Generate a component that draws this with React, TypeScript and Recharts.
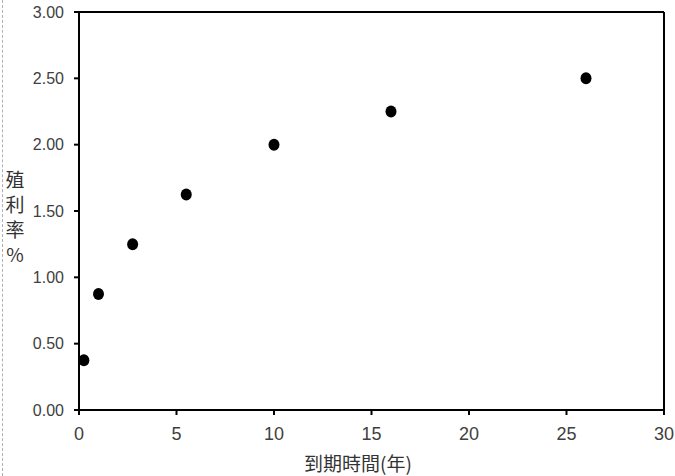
import { ReferenceLine, Scatter, ScatterChart, XAxis, YAxis } from "recharts";

const maturity = [0.25, 1, 2.75, 5.5, 10, 16, 26];
const yieldPct = [0.375, 0.875, 1.25, 1.625, 2.0, 2.25, 2.5];
const xTicks = [0, 5, 10, 15, 20, 25, 30];
const yTicks = [0, 0.5, 1, 1.5, 2, 2.5, 3];

const points = maturity.map((x, i) => ({ x, y: yieldPct[i] }));

const yTickStyle = { fill: "#404040", fontSize: 16, fontFamily: "Liberation Sans, Arial, sans-serif" };
const xTickStyle = { fill: "#404040", fontSize: 18, fontFamily: "Liberation Sans Narrow, Liberation Sans, sans-serif" };

const Dot = (props: any) => <ellipse cx={props.cx} cy={props.cy} rx={5.5} ry={6} fill="#000" />;

function App() {
    return (
        <div style={{ position: "absolute", left: 0, top: 0, width: 675, height: 476, background: "#fff", overflow: "hidden" }}>
            <div style={{ position: "absolute", left: 2, top: 0, height: 476, borderLeft: "1px dashed #b0b0b0" }} />
            <ScatterChart width={675} height={476} margin={{ top: 12, right: 11, left: 0, bottom: 0 }}>
                <XAxis
                    type="number"
                    dataKey="x"
                    domain={[0, 30]}
                    ticks={xTicks}
                    height={66}
                    tickSize={5}
                    tickMargin={12}
                    stroke="#000"
                    strokeWidth={2}
                    tick={xTickStyle}
                />
                <YAxis
                    type="number"
                    dataKey="y"
                    domain={[0, 3]}
                    ticks={yTicks}
                    width={79}
                    tickSize={5}
                    tickMargin={10}
                    stroke="#000"
                    strokeWidth={2}
                    tick={yTickStyle}
                    tickFormatter={(v: number) => v.toFixed(2)}
                />
                <ReferenceLine y={3} stroke="#000" strokeWidth={2} />
                <ReferenceLine x={30} stroke="#000" strokeWidth={2} />
                <Scatter data={points} fill="#000" isAnimationActive={false} shape={Dot} />
            </ScatterChart>
            <div
                style={{
                    position: "absolute",
                    left: 4,
                    top: 166,
                    width: 22,
                    fontFamily: "Noto Sans CJK TC, sans-serif",
                    fontSize: 19,
                    lineHeight: "25px",
                    color: "#333",
                    textAlign: "center",
                }}
            >
                <div>殖</div>
                <div>利</div>
                <div>率</div>
                <div>%</div>
            </div>
            <div
                style={{
                    position: "absolute",
                    left: 258,
                    top: 452,
                    width: 200,
                    textAlign: "center",
                    fontFamily: "Noto Sans CJK TC, sans-serif",
                    fontSize: 19,
                    lineHeight: "22px",
                    color: "#333",
                }}
            >
                到期時間(年)
            </div>
        </div>
    );
}

export default App;
